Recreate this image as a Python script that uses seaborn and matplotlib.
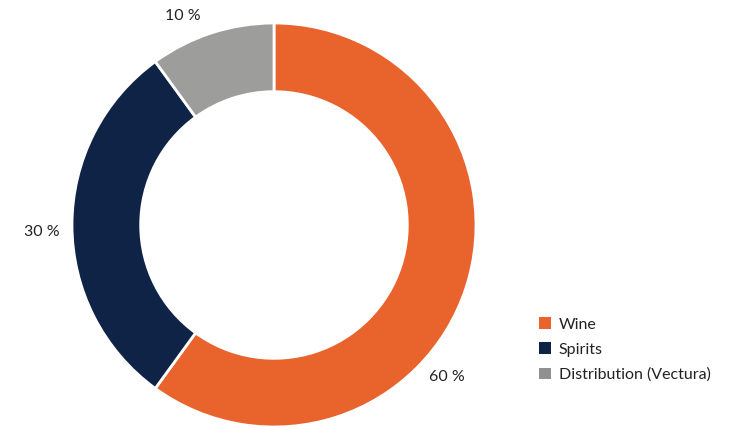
import matplotlib
matplotlib.use("Agg")
import numpy as np
import matplotlib.pyplot as plt
import matplotlib.patches as mpatches
import seaborn as sns

categories = ["Wine", "Spirits", "Distribution (Vectura)"]
shares = [60, 30, 10]
colors = ["#E9632D", "#0F2346", "#9D9D9B"]
legend_colors = ["#E9632D", "#0F2346", "#8E9092"]
label_texts = ["60 %", "30 %", "10 %"]
# label anchor angles (degrees) and radii, in pie units
label_angles = [-41.3, 181.7, 113.5]
label_radii = [1.14, 1.15, 1.13]

sns.set_theme(style="white")
plt.rcParams["font.family"] = ["Lato", "DejaVu Sans"]

fig = plt.figure(figsize=(7.35, 4.29), dpi=100)
cx, cy, r = 274, 225, 202
ax = fig.add_axes([(cx - r) / 735, (429 - cy - r) / 429, 2 * r / 735, 2 * r / 429])
ax.pie(shares, colors=colors, startangle=90, counterclock=False, radius=1,
       wedgeprops=dict(width=0.34, edgecolor="white", linewidth=2))
ax.set_xlim(-1, 1)
ax.set_ylim(-1, 1)
ax.set_aspect("equal")
ax.axis("off")

for txt, ang, rad in zip(label_texts, label_angles, label_radii):
    a = np.deg2rad(ang)
    ax.text(rad * np.cos(a), rad * np.sin(a), txt, ha="center", va="center",
            fontsize=11.5, color="#222222")

handles = [mpatches.Patch(facecolor=c, edgecolor="none", label=l)
           for c, l in zip(legend_colors, categories)]
fig.legend(handles=handles, loc="upper left", bbox_to_anchor=(525 / 735, 1 - 303 / 429),
           frameon=False, fontsize=11.5, handlelength=0.7, handleheight=0.7,
           handletextpad=0.5, labelspacing=0.68, labelcolor="#222222")

fig.savefig("out.png", dpi=100)
